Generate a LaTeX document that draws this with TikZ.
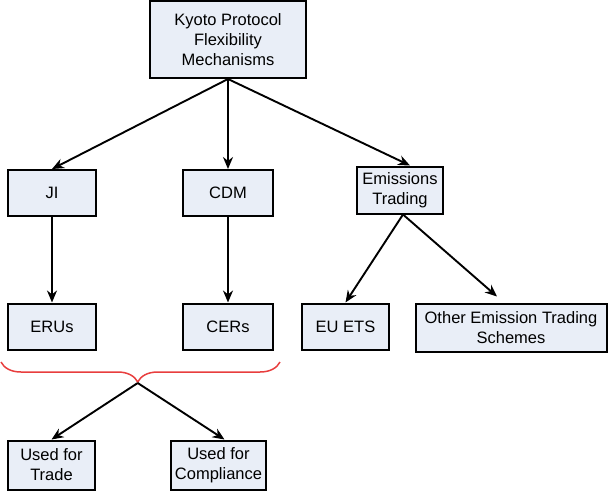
\documentclass[tikz,border=0pt]{standalone}
\usepackage{fontspec}
\setmainfont{Liberation Sans}
\definecolor{BoxFill}{RGB}{233,238,247}
\definecolor{BraceRed}{RGB}{232,62,62}
\usetikzlibrary{arrows.meta, positioning, decorations.pathreplacing, calc}

\begin{document}
\begin{tikzpicture}[x=1pt, y=-1pt,
    box/.style={draw=black, line width=2pt, fill=BoxFill, align=center,
                inner sep=3pt, minimum height=46pt,
                font=\fontsize{16.5}{20}\selectfont},
    link/.style={line width=1.9pt, -{Stealth[length=12pt, width=10pt]}}]
        \useasboundingbox (0,0) rectangle (608,491);
        % top level
        \node[box, minimum width=156pt, minimum height=77pt] (kyoto) at (228,39.5)
          {Kyoto Protocol\\Flexibility\\Mechanisms};
        % mechanisms
        \node[box, minimum width=88pt] (ji) at (52,193) {JI};
        \node[box, minimum width=90pt] (cdm) at (228,193) {CDM};
        \node[box, minimum width=86pt, minimum height=47pt] (et) at (400,190)
          {Emissions\\Trading};
        % units and schemes
        \node[box, minimum width=88pt] (erus) at (52,326.5) {ERUs};
        \node[box, minimum width=90pt] (cers) at (228,326.5) {CERs};
        \node[box, minimum width=87pt] (euets) at (345.5,326.5) {EU ETS};
        \node[box, minimum width=191pt, minimum height=48pt] (other) at (511,327.5)
          {Other Emission Trading\\Schemes};
        % uses
        \node[box, minimum width=87pt, minimum height=49pt] (trade) at (51.5,465)
          {Used for\\Trade};
        \node[box, minimum width=95pt, minimum height=49pt] (compliance) at (218.5,465)
          {Used for\\Compliance};

        \draw[link] (kyoto.south) -- (ji.north);
        \draw[link] (kyoto.south) -- (cdm.north);
        \draw[link] (kyoto.south) -- ($(et.north)+(10,0)$);
        \draw[link] (ji) -- (erus);
        \draw[link] (cdm) -- (cers);
        \draw[link] ($(et.south)+(3,0)$) -- (euets.north);
        \draw[link] ($(et.south)+(3,0)$) -- ($(other.north)+(-14,-6)$);

        % brace over ERUs and CERs
        \coordinate (braceL) at (1,362);
        \coordinate (braceR) at (280,362);
        \draw[BraceRed, line width=1.5pt,
              decorate, decoration={brace, mirror, amplitude=20pt, aspect=0.49}]
          (braceL) -- (braceR) coordinate[pos=0.49] (braceM);
        \coordinate (braceTip) at ($(braceM)+(0,21)$);
        \draw[link] (braceTip) -- (trade.north);
        \draw[link] (braceTip) -- ($(compliance.north)+(6,0)$);
      \end{tikzpicture}
\end{document}
